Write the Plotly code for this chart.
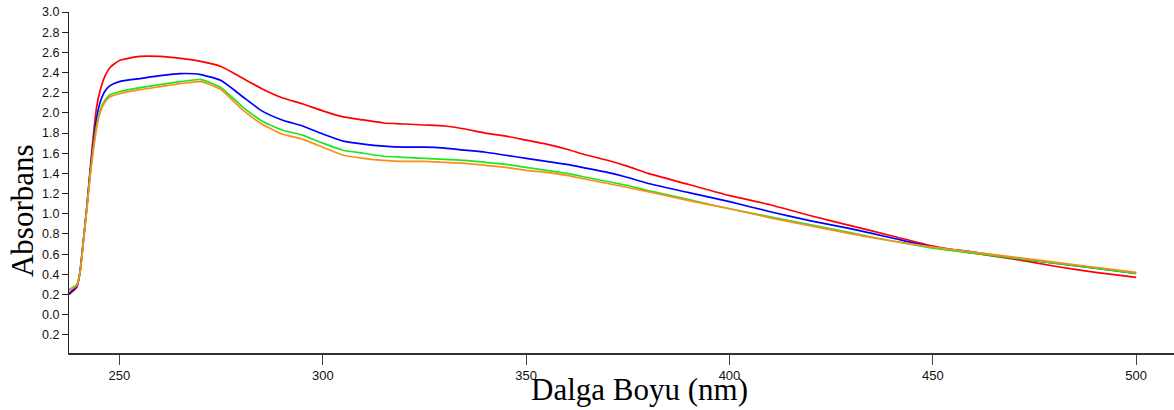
import plotly.graph_objects as go

wavelength = [237.6, 239.5, 240.3, 241.1, 242, 242.8, 243.6, 244.4, 245.3, 246.5, 247.7, 250,
              255, 260, 265, 270, 275, 280, 285, 290, 295, 300, 305, 310, 315, 320, 325, 330,
              335, 340, 345, 350, 355, 360, 365, 370, 375, 380, 390, 400, 410, 420, 430, 440,
              450, 460, 470, 480, 490, 500]

red = [0.20, 0.27, 0.42, 0.72, 1.08, 1.44, 1.78, 2.06, 2.23, 2.37, 2.45, 2.52,
       2.56, 2.56, 2.54, 2.51, 2.46, 2.35, 2.24, 2.15, 2.09, 2.02, 1.96, 1.93, 1.90, 1.89, 1.88, 1.87,
       1.84, 1.80, 1.77, 1.73, 1.69, 1.64, 1.58, 1.53, 1.47, 1.40, 1.29, 1.18, 1.09, 0.98, 0.88, 0.78,
       0.68, 0.61, 0.55, 0.48, 0.42, 0.37]

blue = [0.21, 0.28, 0.42, 0.72, 1.07, 1.41, 1.70, 1.95, 2.11, 2.22, 2.27, 2.31,
        2.34, 2.37, 2.39, 2.38, 2.32, 2.17, 2.02, 1.93, 1.87, 1.79, 1.72, 1.69, 1.67, 1.66, 1.66, 1.65,
        1.63, 1.61, 1.58, 1.55, 1.52, 1.49, 1.45, 1.41, 1.36, 1.30, 1.21, 1.12, 1.02, 0.93, 0.85, 0.76,
        0.67, 0.62, 0.56, 0.51, 0.46, 0.41]

green = [0.25, 0.30, 0.42, 0.71, 1.06, 1.39, 1.66, 1.88, 2.03, 2.13, 2.18, 2.21,
         2.25, 2.28, 2.31, 2.33, 2.25, 2.07, 1.92, 1.83, 1.78, 1.70, 1.63, 1.60, 1.57, 1.56, 1.55, 1.54,
         1.53, 1.51, 1.49, 1.46, 1.43, 1.40, 1.36, 1.32, 1.28, 1.23, 1.14, 1.05, 0.97, 0.89, 0.81, 0.73,
         0.66, 0.61, 0.56, 0.51, 0.46, 0.41]

orange = [0.24, 0.29, 0.41, 0.70, 1.05, 1.37, 1.63, 1.85, 2.01, 2.11, 2.16, 2.19,
          2.23, 2.26, 2.29, 2.31, 2.23, 2.04, 1.89, 1.79, 1.74, 1.66, 1.58, 1.55, 1.53, 1.52, 1.52, 1.51,
          1.50, 1.48, 1.46, 1.43, 1.41, 1.38, 1.34, 1.30, 1.26, 1.22, 1.13, 1.05, 0.96, 0.88, 0.80, 0.73,
          0.67, 0.62, 0.57, 0.52, 0.47, 0.42]

x_tick_vals = [250, 300, 350, 400, 450, 500]
y_tick_vals = [-0.2, 0.0, 0.2, 0.4, 0.6, 0.8, 1.0, 1.2, 1.4, 1.6, 1.8, 2.0, 2.2, 2.4, 2.6, 2.8, 3.0]
y_tick_text = ["0.2", "0.0", "0.2", "0.4", "0.6", "0.8", "1.0", "1.2", "1.4", "1.6", "1.8", "2.0",
               "2.2", "2.4", "2.6", "2.8", "3.0"]

series = [("red", red, "#FF0000"), ("blue", blue, "#0000FF"),
          ("green", green, "#1EE61E"), ("orange", orange, "#FF8C1A")]

fig = go.Figure()
for name, vals, col in series:
    fig.add_trace(go.Scatter(x=wavelength, y=vals, mode="lines", name=name,
                             line=dict(color=col, width=1.7, shape="spline", smoothing=0.5)))

narrow = "Liberation Sans Narrow, Arial Narrow, Liberation Sans, sans-serif"
serif = "Liberation Serif, Times New Roman, serif"

fig.update_layout(
    width=1174, height=410,
    margin=dict(l=69, r=0, t=12, b=57),
    paper_bgcolor="white", plot_bgcolor="white",
    showlegend=False,
    xaxis=dict(range=[237.6, 509.3], tickvals=x_tick_vals, ticks="outside", ticklen=10,
               tickwidth=1, tickcolor="#444", showline=True, linecolor="#333", linewidth=1.5,
               showgrid=False, zeroline=False,
               tickfont=dict(family=narrow, size=13, color="#111")),
    yaxis=dict(range=[-0.38, 3.0], tickvals=y_tick_vals, ticktext=y_tick_text, ticks="outside",
               ticklen=6, tickwidth=1, tickcolor="#222", showline=True, linecolor="#222",
               linewidth=1, showgrid=False, zeroline=False,
               tickfont=dict(family=narrow, size=12.5, color="#111")),
    annotations=[
        dict(text="Absorbans", xref="paper", yref="paper", x=-0.042, y=0.418, showarrow=False,
             textangle=-90, font=dict(family=serif, size=31, color="black"),
             xanchor="center", yanchor="middle"),
        dict(text="Dalga Boyu (nm)", xref="paper", yref="paper", x=0.516, y=-0.107,
             showarrow=False, font=dict(family=serif, size=31, color="black"),
             xanchor="center", yanchor="middle"),
    ],
)

fig.write_html("out.html", config={"displayModeBar": False},
               post_script="document.body.style.margin='0px';")
